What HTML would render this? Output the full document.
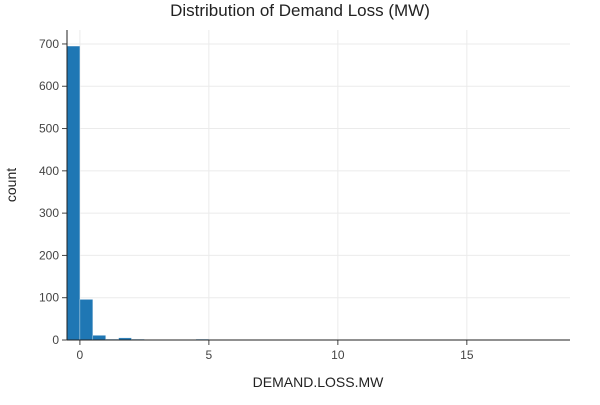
<!DOCTYPE html>
<html><head><meta charset="utf-8"><style>
body{margin:0;background:#fff;font-family:"Liberation Sans","DejaVu Sans",sans-serif}
</style></head><body>
<svg id="chart" width="600" height="400" xmlns="http://www.w3.org/2000/svg"></svg>
<script>
const binStarts=[-0.5,0,0.5,1,1.5,2,4.5,6,10,18.5];
const binCounts=[695,96,11,2,5,2,2,1,1,1];
const binWidth=0.5;
const xTicks=[0,5,10,15];
const yTicks=[0,100,200,300,400,500,600,700];
const L=67,R=570,T=30,B=340;
const xMin=-0.5,xMax=19,yMax=733;
const xs=v=>L+(v-xMin)/(xMax-xMin)*(R-L);
const ys=v=>B-v/yMax*(B-T);
const svg=document.getElementById('chart');
const NS='http://www.w3.org/2000/svg';
function mk(t,a,txt){const e=document.createElementNS(NS,t);for(const k in a)e.setAttribute(k,a[k]);if(txt!==undefined)e.textContent=txt;svg.appendChild(e);return e;}
yTicks.forEach(v=>{
 const g=mk('line',{x1:L,x2:R,y1:ys(v),y2:ys(v),stroke:'#ebebeb','stroke-width':1});
 
 
 const tk=mk('line',{x1:L-5,x2:L,y1:ys(v),y2:ys(v),stroke:'#444'});
 
 
 const t=mk('text',{x:L-8,y:ys(v)+4,'text-anchor':'end','font-size':12,fill:'#444'},v);
 
 
});
xTicks.forEach(v=>{
 const g=mk('line',{x1:xs(v),x2:xs(v),y1:T,y2:B,stroke:'#ebebeb','stroke-width':1});
 
 
 const tk=mk('line',{x1:xs(v),x2:xs(v),y1:B,y2:B+5,stroke:'#444'});
 
 
 const t=mk('text',{x:xs(v),y:B+19,'text-anchor':'middle','font-size':12,fill:'#444'},v);
 
 
});
binStarts.forEach((s,i)=>{
 const x0=xs(s),x1=xs(s+binWidth),y=ys(binCounts[i]);
 const r=mk('rect',{x:x0,y:y,width:x1-x0,height:B-y,fill:'#1f77b4',stroke:'#ffffff','stroke-width':0.5,'stroke-opacity':0.6});
 
 
});
const ya=mk('line',{x1:L,x2:L,y1:T,y2:B,stroke:'#222','stroke-width':1});


const xa=mk('line',{x1:L,x2:R,y1:B,y2:B,stroke:'#222','stroke-width':1});


const ti=mk('text',{x:300,y:16,'text-anchor':'middle','font-size':17,fill:'#222'},'Distribution of Demand Loss (MW)');


const xt=mk('text',{x:318,y:387,'text-anchor':'middle','font-size':14,fill:'#222'},'DEMAND.LOSS.MW');


const yt=mk('text',{x:16,y:185,'text-anchor':'middle','font-size':14,fill:'#222',transform:'rotate(-90 16 185)'},'count');


</script>
</body></html>
